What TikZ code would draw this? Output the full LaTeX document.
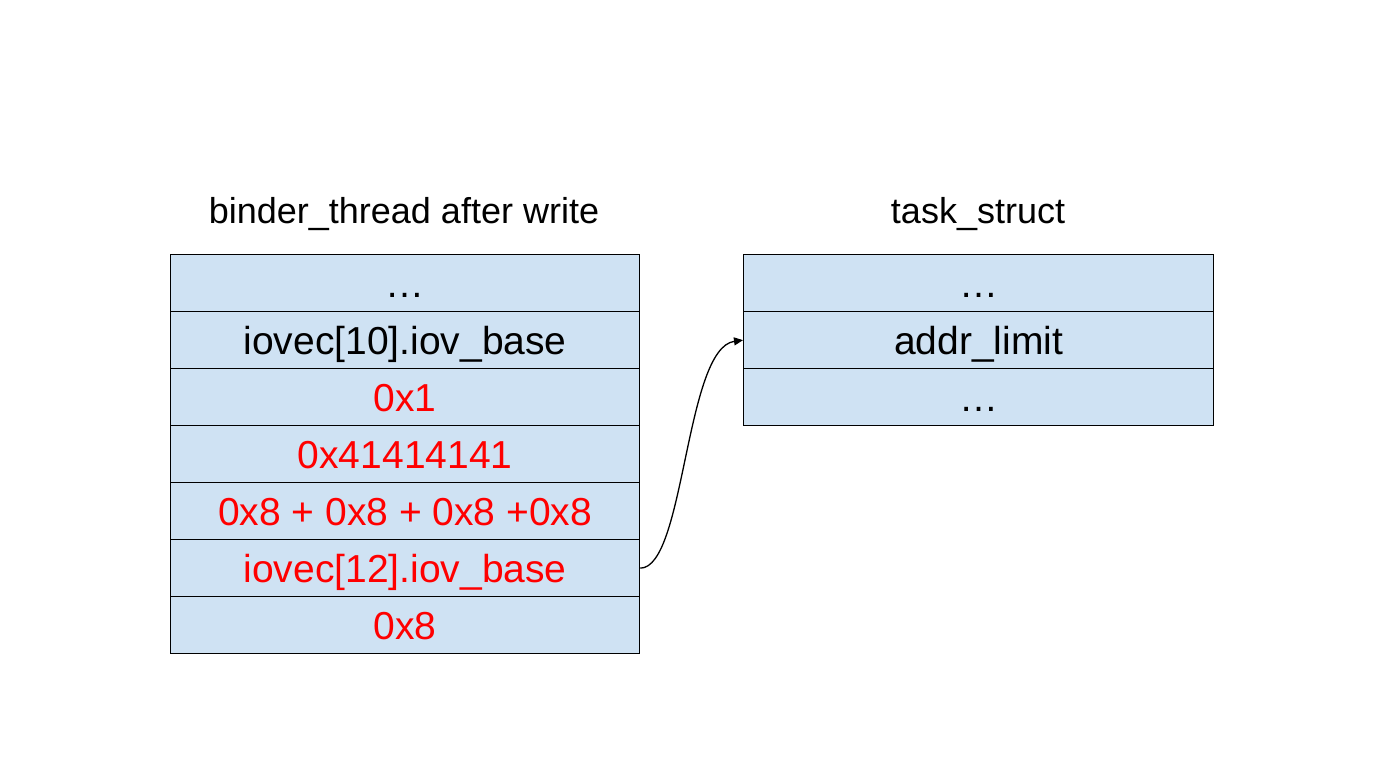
\documentclass[tikz,border=0pt]{standalone}
\usepackage{fontspec}
\setmainfont{Liberation Sans}
\usetikzlibrary{arrows.meta}
\definecolor{cellblue}{HTML}{CFE2F3}
\definecolor{redtxt}{HTML}{FF0000}
\begin{document}
\begin{tikzpicture}[x=1pt,y=-1pt,
  cell/.style={draw=black,line width=1.3pt,fill=cellblue,minimum height=57pt,inner sep=0pt,text height=29pt,text depth=0pt,anchor=north west,font=\fontsize{39}{44}\selectfont},
  lcell/.style={cell,minimum width=469pt},
  rcell/.style={cell,minimum width=470pt},
  ttl/.style={font=\fontsize{36}{40}\selectfont,inner sep=0pt},
  red/.style={text=redtxt}]
\useasboundingbox (0,0) rectangle (1389,778);
\node[ttl] (lt) at (404,214) {binder\_thread after write};
\node[ttl] (rt) at (978,214) {task\_struct};
\node[lcell] (l1) at (170,254) {\dots};
\node[lcell] (l2) at (170,311) {iovec[10].iov\_base};
\node[lcell,red] (l3) at (170,368) {0x1};
\node[lcell,red] (l4) at (170,425) {0x41414141};
\node[lcell,red] (l5) at (170,482) {0x8 + 0x8 + 0x8 +0x8};
\node[lcell,red] (l6) at (170,539) {iovec[12].iov\_base};
\node[lcell,red] (l7) at (170,596) {0x8};
\node[rcell] (r1) at (743,254) {\dots};
\node[rcell] (r2) at (743,311) {addr\_limit};
\node[rcell] (r3) at (743,368) {\dots};
\draw[line width=1.3pt,-{Triangle[length=9pt,width=8pt]}] (l6.east) .. controls (685,568) and (685,348) .. (r2.west);
\end{tikzpicture}
\end{document}
